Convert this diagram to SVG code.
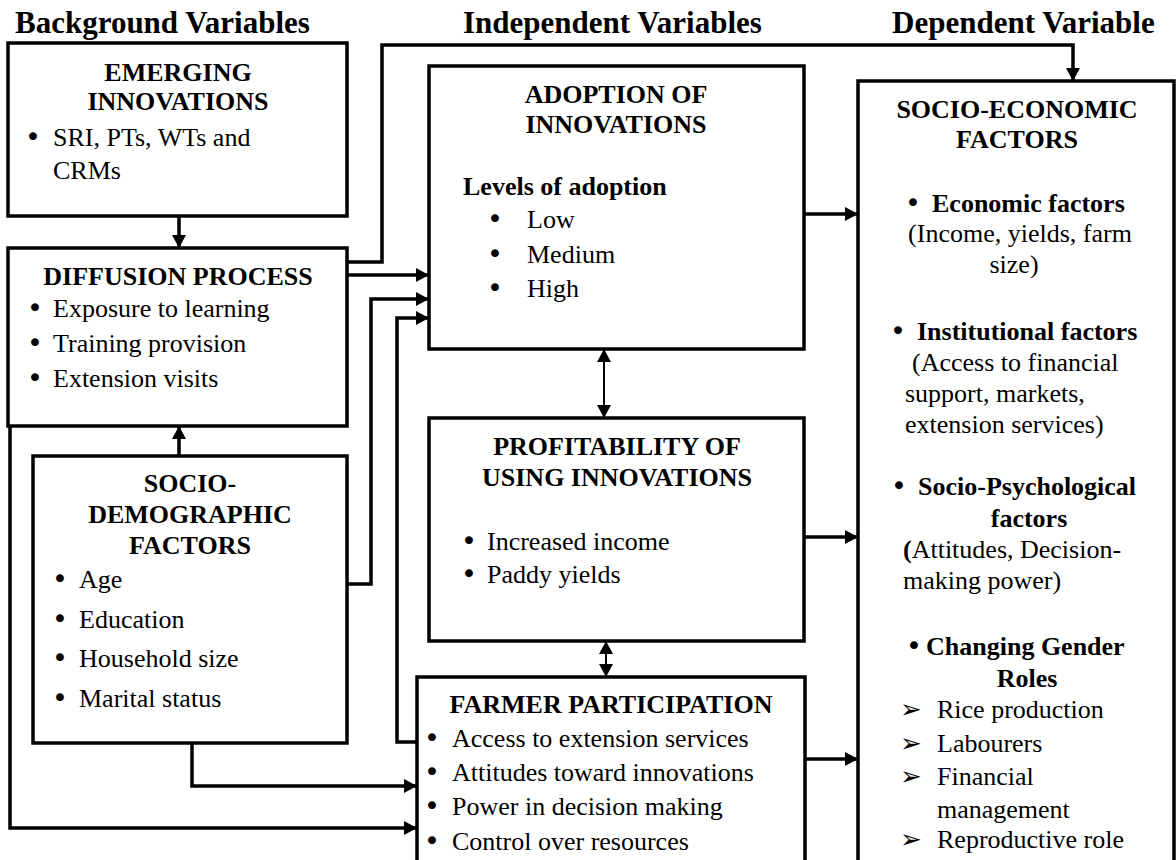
<svg xmlns="http://www.w3.org/2000/svg" width="1176" height="860" viewBox="0 0 1176 860">
<style>
text{font-family:"Liberation Serif","Times New Roman",serif;fill:#000}
.h{font-size:31px;font-weight:bold}
.b{font-size:26px;font-weight:bold}
.t{font-size:26px}
.bu{font-family:"DejaVu Sans",sans-serif;font-size:27px;font-weight:normal}
.c{text-anchor:middle}
.box{fill:#fff;stroke:#000;stroke-width:3.5}
.ln{fill:none;stroke:#000;stroke-width:3.5}
.thin{fill:none;stroke:#000;stroke-width:2}
.dg{font-family:"DejaVu Sans",sans-serif;font-size:26px}
</style>
<defs>
<marker id="arr" markerUnits="userSpaceOnUse" markerWidth="14" markerHeight="14" refX="13" refY="7" orient="auto-start-reverse">
<path d="M0,0 L13,7 L0,14 Z" fill="#000"/>
</marker>
</defs>
<g id="headings">
<text class="h" x="15" y="33">Background Variables</text>
<text class="h" x="463" y="33">Independent Variables</text>
<text class="h" x="892" y="33">Dependent Variable</text>
</g>
<g id="connectors">
<line class="ln" x1="179" y1="216" x2="179" y2="248" marker-end="url(#arr)"/>
<line class="ln" x1="179" y1="456" x2="179" y2="426" marker-end="url(#arr)"/>
<polyline class="ln" points="347,262 382,262 382,45 1073,45 1073,81" marker-end="url(#arr)"/>
<line class="ln" x1="344" y1="275" x2="429" y2="275" marker-end="url(#arr)"/>
<polyline class="ln" points="345,584 371,584 371,299 429,299" marker-end="url(#arr)"/>
<polyline class="ln" points="417,742 397,742 397,318 429,318" marker-end="url(#arr)"/>
<polyline class="ln" points="192,743 192,786 417,786" marker-end="url(#arr)"/>
<polyline class="ln" points="10,426 10,828 417,828" marker-end="url(#arr)"/>
<line class="thin" x1="604" y1="349" x2="604" y2="418" marker-start="url(#arr)" marker-end="url(#arr)"/>
<line class="thin" x1="606" y1="641" x2="606" y2="677" marker-start="url(#arr)" marker-end="url(#arr)"/>
<line class="ln" x1="804" y1="214" x2="858" y2="214" marker-end="url(#arr)"/>
<line class="ln" x1="804" y1="537" x2="858" y2="537" marker-end="url(#arr)"/>
<line class="ln" x1="805" y1="759" x2="858" y2="759" marker-end="url(#arr)"/>
</g>
<g id="emerging">
<rect class="box" x="8" y="43" width="339" height="173"/>
<text class="b c" x="178" y="81">EMERGING</text>
<text class="b c" x="178" y="110">INNOVATIONS</text>
<text class="t" y="146"><tspan class="bu" x="25">•</tspan><tspan x="53">SRI, PTs, WTs and</tspan></text>
<text class="t" x="53" y="179">CRMs</text>
</g>
<g id="diffusion">
<rect class="box" x="8" y="248" width="339" height="178"/>
<text class="b c" x="178" y="285">DIFFUSION PROCESS</text>
<text class="t" y="317"><tspan class="bu" x="27">•</tspan><tspan x="53">Exposure to learning</tspan></text>
<text class="t" y="352"><tspan class="bu" x="27">•</tspan><tspan x="53">Training provision</tspan></text>
<text class="t" y="387"><tspan class="bu" x="27">•</tspan><tspan x="53">Extension visits</tspan></text>
</g>
<g id="sociodemographic">
<rect class="box" x="33" y="456" width="314" height="287"/>
<text class="b c" x="190" y="492">SOCIO-</text>
<text class="b c" x="190" y="523">DEMOGRAPHIC</text>
<text class="b c" x="190" y="554">FACTORS</text>
<text class="t" y="588"><tspan class="bu" x="52">•</tspan><tspan x="79">Age</tspan></text>
<text class="t" y="628"><tspan class="bu" x="52">•</tspan><tspan x="79">Education</tspan></text>
<text class="t" y="667"><tspan class="bu" x="52">•</tspan><tspan x="79">Household size</tspan></text>
<text class="t" y="707"><tspan class="bu" x="52">•</tspan><tspan x="79">Marital status</tspan></text>
</g>
<g id="adoption">
<rect class="box" x="429" y="66" width="375" height="283"/>
<text class="b c" x="616" y="103">ADOPTION OF</text>
<text class="b c" x="616" y="133">INNOVATIONS</text>
<text class="b" x="463" y="195">Levels of adoption</text>
<text class="t" y="228"><tspan class="bu" x="487">•</tspan><tspan x="527">Low</tspan></text>
<text class="t" y="263"><tspan class="bu" x="487">•</tspan><tspan x="527">Medium</tspan></text>
<text class="t" y="297"><tspan class="bu" x="487">•</tspan><tspan x="527">High</tspan></text>
</g>
<g id="profitability">
<rect class="box" x="429" y="418" width="375" height="223"/>
<text class="b c" x="617" y="455">PROFITABILITY OF</text>
<text class="b c" x="617" y="486">USING INNOVATIONS</text>
<text class="t" y="550"><tspan class="bu" x="461">•</tspan><tspan x="487">Increased income</tspan></text>
<text class="t" y="583"><tspan class="bu" x="461">•</tspan><tspan x="487">Paddy yields</tspan></text>
</g>
<g id="participation">
<rect class="box" x="417" y="677" width="388" height="200"/>
<text class="b c" x="611" y="713">FARMER PARTICIPATION</text>
<text class="t" y="747"><tspan class="bu" x="424">•</tspan><tspan x="452">Access to extension services</tspan></text>
<text class="t" y="781"><tspan class="bu" x="424">•</tspan><tspan x="452">Attitudes toward innovations</tspan></text>
<text class="t" y="815"><tspan class="bu" x="424">•</tspan><tspan x="452">Power in decision making</tspan></text>
<text class="t" y="850"><tspan class="bu" x="424">•</tspan><tspan x="452">Control over resources</tspan></text>
</g>
<g id="socioeconomic">
<rect class="box" x="858" y="81" width="316" height="800"/>
<text class="b c" x="1017" y="118">SOCIO-ECONOMIC</text>
<text class="b c" x="1017" y="148">FACTORS</text>
<text class="b" y="212"><tspan class="bu" x="905">•</tspan><tspan x="932">Economic factors</tspan></text>
<text class="t c" x="1020" y="242">(Income, yields, farm</text>
<text class="t c" x="1014" y="273">size)</text>
<text class="b" y="340"><tspan class="bu" x="890">•</tspan><tspan x="917">Institutional factors</tspan></text>
<text class="t" x="912" y="371">(Access to financial</text>
<text class="t" x="905" y="402">support, markets,</text>
<text class="t" x="905" y="433">extension services)</text>
<text class="b" y="495"><tspan class="bu" x="891">•</tspan><tspan x="918">Socio-Psychological</tspan></text>
<text class="b c" x="1029" y="527">factors</text>
<text class="t" x="903" y="558"><tspan font-weight="bold">(</tspan>Attitudes, Decision-</text>
<text class="t" x="903" y="589">making power)</text>
<text class="b" y="655"><tspan class="bu" x="906">•</tspan><tspan x="926">Changing Gender</tspan></text>
<text class="b c" x="1027" y="687">Roles</text>
<text class="t" y="718"><tspan class="dg" x="900">➢</tspan><tspan x="937">Rice production</tspan></text>
<text class="t" y="752"><tspan class="dg" x="900">➢</tspan><tspan x="937">Labourers</tspan></text>
<text class="t" y="785"><tspan class="dg" x="900">➢</tspan><tspan x="937">Financial</tspan></text>
<text class="t" x="937" y="818">management</text>
<text class="t" y="848"><tspan class="dg" x="900">➢</tspan><tspan x="937">Reproductive role</tspan></text>
</g>
</svg>
